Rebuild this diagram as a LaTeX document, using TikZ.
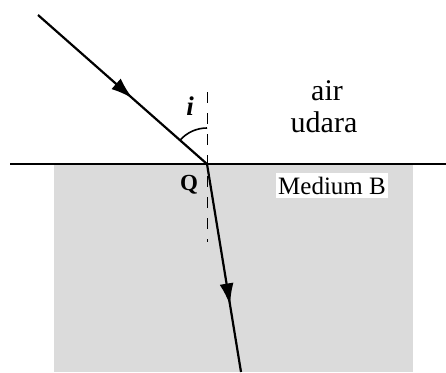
\documentclass[tikz,border=0pt]{standalone}
\usepackage{fontspec}
\setmainfont{Liberation Serif}
\usetikzlibrary{arrows.meta,decorations.markings}
\tikzset{
    ray/.style={line width=2.2pt, postaction={decorate},
        decoration={markings, mark=at position #1 with {\arrow{Latex[length=22pt,width=14pt]}}}},
    lbl/.style={anchor=base, inner sep=0pt, font=\fontsize{30}{33}\selectfont},
}
\begin{document}
\begin{tikzpicture}[x=1pt,y=-1pt]
    \useasboundingbox (0,0) rectangle (446,372);

    %medium B (grey block)
    \fill[black!14] (54,164) rectangle (413,372);

    %boundary
    \coordinate (Q) at (207,164);
    \coordinate (bl) at (10,164);
    \coordinate (br) at (446,164);
    \draw[line width=2pt] (bl) -- (br);

    %normal (dashed)
    \coordinate (ntop) at (207,92);
    \coordinate (nbot) at (207,242);
    \draw[line width=1pt, dash pattern=on 11pt off 10pt] (ntop) -- (nbot);

    %rays
    \coordinate (src) at (38,15);
    \coordinate (dst) at (241,372);
    \draw[ray=0.56] (src) -- (Q);
    \draw[ray=0.68] (Q) -- (dst);

    %angle
    \draw[line width=1.6pt] ([shift={(221.2:36)}]Q) arc[start angle=221.2, end angle=270, radius=36];

    %labels
    \node[lbl, font=\bfseries\itshape\fontsize{27}{30}\selectfont] (ilabel) at (190,115) {i};
    \node[lbl] (air) at (327,100) {air};
    \node[lbl] (udara) at (324,132) {udara};
    \node[lbl, font=\bfseries\fontsize{23}{26}\selectfont] (qlabel) at (189,190) {Q};
    \node[anchor=base, fill=white, inner xsep=2pt, inner ysep=4pt, font=\fontsize{25}{28}\selectfont] (medB) at (332,194) {Medium B};

\end{tikzpicture}
\end{document}
